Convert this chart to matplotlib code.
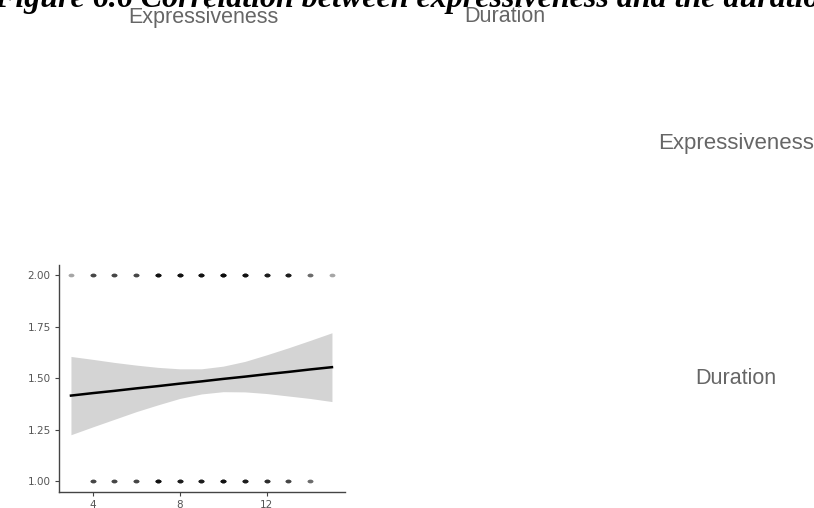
import matplotlib
matplotlib.use("Agg")
import matplotlib.pyplot as plt
from matplotlib.path import Path
from matplotlib.transforms import Affine2D
import numpy as np

# scatter counts (observations stacked at each integer score)
x_top = [3, 4, 5, 6, 7, 8, 9, 10, 11, 12, 13, 14, 15]
n_top = [1, 3, 3, 3, 6, 6, 6, 7, 6, 5, 5, 2, 1]
x_bot = [4, 5, 6, 7, 8, 9, 10, 11, 12, 13, 14]
n_bot = [3, 3, 3, 6, 5, 5, 6, 5, 4, 3, 2]

# fitted line with its confidence band
fit_x = [3, 4, 5, 6, 7, 8, 9, 10, 11, 12, 13, 14, 15]
fit_y = [1.415, 1.427, 1.438, 1.450, 1.461, 1.473, 1.484, 1.496, 1.507, 1.519, 1.530, 1.542, 1.553]
ci_hi = [1.605, 1.591, 1.576, 1.563, 1.552, 1.545, 1.545, 1.558, 1.581, 1.613, 1.647, 1.683, 1.720]
ci_lo = [1.225, 1.263, 1.300, 1.337, 1.370, 1.401, 1.423, 1.434, 1.433, 1.425, 1.413, 1.401, 1.386]

yticks = [1.00, 1.25, 1.50, 1.75, 2.00]
xticks = [4, 8, 12]

W, H = 814, 508
fig = plt.figure(figsize=(W / 100, H / 100), dpi=100)
fig.patch.set_facecolor('white')

def px(x0, y0, x1, y1):
    return [x0 / W, 1 - y1 / H, (x1 - x0) / W, (y1 - y0) / H]

# wide dot marker
dot = Path.unit_circle().transformed(Affine2D().scale(1.6, 1.0))

ax = fig.add_axes(px(59, 265, 345, 492))
ax.fill_between(fit_x, ci_lo, ci_hi, color='#d4d4d4', lw=0, zorder=1)
ax.plot(fit_x, fit_y, color='black', lw=1.8, zorder=3)

for xs, ns, yv in [(x_top, n_top, 2.0), (x_bot, n_bot, 1.0)]:
    for xv, n in zip(xs, ns):
        for _ in range(n):
            ax.scatter(xv, yv, s=18, marker=dot, color='black', alpha=0.35, lw=0, zorder=2)

ax.set_xlim(2.45, 15.6)
ax.set_ylim(0.947, 2.049)
ax.set_yticks(yticks)
ax.set_yticklabels(['%.2f' % v for v in yticks])
ax.set_xticks(xticks)
for s in ['top', 'right']:
    ax.spines[s].set_visible(False)
for s in ['left', 'bottom']:
    ax.spines[s].set_color('#444444')
    ax.spines[s].set_linewidth(1.0)
ax.tick_params(colors='#444444', labelcolor='#555555', labelsize=7.5, length=3, width=0.8, pad=3)

fig.text(-0.007, 1 - 7 / H, 'Figure 6.6 Correlation between expressiveness and the duration',
         family='Liberation Serif', weight='bold', style='italic', fontsize=23,
         ha='left', va='baseline')

grey = '#666666'
fig.text(203 / W, 1 - 17 / H, 'Expressiveness', color=grey, fontsize=15.5,
         family='Liberation Sans', ha='center', va='center')
fig.text(505 / W, 1 - 17 / H, 'Duration', color=grey, fontsize=15.5,
         family='Liberation Sans', ha='center', va='center')
fig.text(658 / W, 1 - 143 / H, 'Expressiveness', color=grey, fontsize=16,
         family='Liberation Sans', ha='left', va='center')
fig.text(695 / W, 1 - 379 / H, 'Duration', color=grey, fontsize=15.5,
         family='Liberation Sans', ha='left', va='center')

fig.savefig('out.png', dpi=100)
